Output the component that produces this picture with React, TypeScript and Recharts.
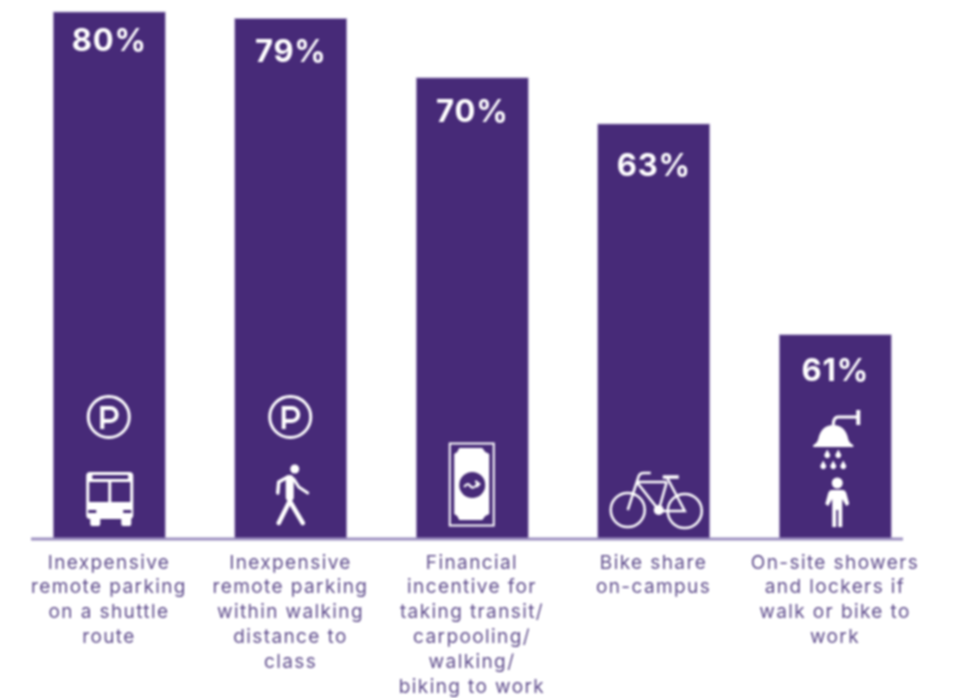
import React from "react";
import { BarChart, Bar, XAxis, YAxis, LabelList } from "recharts";

const categories = [
  "Inexpensive|remote parking|on a shuttle|route",
  "Inexpensive|remote parking|within walking|distance to|class",
  "Financial|incentive for|taking transit/|carpooling/|walking/|biking to work",
  "Bike share|on-campus",
  "On-site showers|and lockers if|walk or bike to|work",
];
const barHeights = [80, 79, 70, 63, 31];
const percentLabels = ["80%", "79%", "70%", "63%", "61%"];
const icons = ["parkBus", "parkWalk", "cash", "bike", "shower"];
const data = categories.map((name, i) => ({ name, height: barHeights[i], label: percentLabels[i], icon: icons[i] }));

const PURPLE = "#472a78";
const LABEL_DROP = [27, 32, 33, 41, 35];
const FONT = "Inter, sans-serif";

const Parking = () => (
  <g transform="translate(-0.5,-122)" fill="none" stroke="#fff">
    <circle r={20.5} strokeWidth={3} />
    <path d="M-6.5,12 V-9 H1.5 a6.5,6.5 0 0 1 0,13 H-6.5" strokeWidth={4} />
  </g>
);

const Bus = () => (
  <g>
    <rect x={-23} y={-67} width={47} height={47} rx={4} fill="#fff" />
    <rect x={-19} y={-22} width={10} height={9} rx={2} fill="#fff" />
    <rect x={12} y={-22} width={10} height={9} rx={2} fill="#fff" />
    <rect x={-17} y={-64} width={36} height={4} rx={1} fill={PURPLE} />
    <rect x={-20} y={-57} width={19} height={20} fill={PURPLE} />
    <rect x={2} y={-57} width={19} height={20} fill={PURPLE} />
    <rect x={-21} y={-29} width={8} height={3} fill={PURPLE} />
    <rect x={14} y={-29} width={8} height={3} fill={PURPLE} />
  </g>
);

const Walker = () => (
  <g fill="none" stroke="#fff" strokeLinecap="round" strokeLinejoin="round">
    <circle cx={4} cy={-70} r={4.5} fill="#fff" stroke="none" />
    <path d="M-1,-60 L-1,-42" strokeWidth={8} />
    <path d="M-1,-38 L-12,-16 M-1,-38 L12,-16" strokeWidth={4.5} />
    <path d="M-3,-62 L-12,-57 L-13,-46" strokeWidth={3.5} />
    <path d="M3,-60 L8,-52 L17,-46" strokeWidth={3} />
  </g>
);

const Cash = () => (
  <g>
    <rect x={-22.5} y={-95.5} width={44} height={82} fill="none" stroke="#fff" strokeWidth={2} />
    <path d="M-13,-91 H10 L13,-87 L17,-85 V-25 L13,-23 L10,-19 H-13 L-15,-23 L-18,-25 V-85 L-15,-87 Z" fill="#fff" />
    <circle cx={0} cy={-54} r={13} fill={PURPLE} />
    <path d="M-8,-52 q3,-5 6,-1 q3,4 7,-2 M3,-58 l4,3 l-3,3" fill="none" stroke="#fff" strokeWidth={2.2} />
  </g>
);

const Bike = () => (
  <g fill="none" stroke="#fff" strokeWidth={2.5}>
    <circle cx={-26} cy={-29} r={17} />
    <circle cx={31} cy={-28} r={17} />
    <path d="M-26,-29 L-15,-63 Q-14,-66 -10,-66 H-3" />
    <path d="M-17,-57 H13 M-17,-57 L5,-29 L13,-57 M13,-62 L31,-28 H5" />
    <path d="M9,-62 H25" strokeWidth={3.5} />
    <circle cx={5} cy={-29} r={5} fill="#fff" stroke="none" />
  </g>
);

const Shower = () => (
  <g>
    <path d="M-2,-114 Q-2,-122 3,-122 H22" fill="none" stroke="#fff" strokeWidth={3} />
    <rect x={21} y={-129} width={4} height={15} fill="#fff" />
    <path d="M-22,-94 Q-18,-96 -17,-100 Q-14,-114 -2,-114 Q10,-114 13,-100 Q14,-96 18,-94 V-92 H-22 Z" fill="#fff" />
    {[[-8, -85], [3, -85], [-12, -74], [-2, -74], [8, -74]].map(([x, y], k) => (
      <path key={k} d={`M${x},${y - 4.5} L${x + 2.8},${y + 0.5} A2.9,2.9 0 1 1 ${x - 2.8},${y + 0.5} Z`} fill="#fff" />
    ))}
    <circle cx={2} cy={-56} r={5.5} fill="#fff" />
    <path d="M-3,-49 H7 Q10,-49 11,-46 L14,-35 L11,-33 L7,-40 V-12 H3 V-29 H1 V-12 H-3 V-40 L-7,-33 L-10,-35 L-7,-46 Q-6,-49 -3,-49 Z" fill="#fff" />
  </g>
);

const BarWithIcon = (props: any) => {
  const { x, y, width, height, payload } = props;
  const cx = x + width / 2;
  const icon = payload.icon;
  return (
    <g>
      <rect x={x} y={y} width={width} height={height} fill={PURPLE} stroke="#b4a8d0" strokeWidth={0.8} />
      <g transform={`translate(${cx},${y + height})`}>
        {(icon === "parkBus" || icon === "parkWalk") && <Parking />}
        {icon === "parkBus" && <Bus />}
        {icon === "parkWalk" && <Walker />}
        {icon === "cash" && <Cash />}
        {icon === "bike" && <Bike />}
        {icon === "shower" && <Shower />}
      </g>
    </g>
  );
};

const CategoryTick = (props: any) => {
  const { x, y, payload } = props;
  const lines = String(payload.value).split("|");
  return (
    <text x={x} y={y} textAnchor="middle" fontFamily={FONT} fontSize={19} letterSpacing={1.4} fill="#5f4c8c">
      {lines.map((line: string, i: number) => (
        <tspan key={i} x={x} y={y + 21.5 + i * 24.9}>{line}</tspan>
      ))}
    </text>
  );
};

const PercentLabel = (props: any) => {
  const { x, y, width, value, index } = props;
  return (
    <text
      x={x + width / 2}
      y={y + LABEL_DROP[index]}
      textAnchor="middle"
      dominantBaseline="central"
      fontFamily={FONT}
      fontWeight={700}
      fontSize={31}
      letterSpacing={0.8}
      fill="#fff"
    >
      {value}
    </text>
  );
};

export default function App() {
  return (
    <div style={{ position: "absolute", left: 0, top: 0, width: 957, height: 698, overflow: "hidden", filter: "blur(0.8px)" }}>
      <BarChart
        width={957}
        height={698}
        data={data}
        margin={{ top: 12, right: 54, bottom: 0, left: 31 }}
        barSize={112}
      >
        <YAxis hide domain={[0, 80]} />
        <XAxis
          dataKey="name"
          interval={0}
          height={159}
          tickLine={false}
          padding={{ left: -12.75, right: -22.75 }}
          axisLine={{ stroke: "#9c8fc0", strokeWidth: 3 }}
          tick={<CategoryTick />}
        />
        <Bar dataKey="height" shape={<BarWithIcon />} isAnimationActive={false}>
          <LabelList dataKey="label" content={<PercentLabel />} />
        </Bar>
      </BarChart>
    </div>
  );
}
